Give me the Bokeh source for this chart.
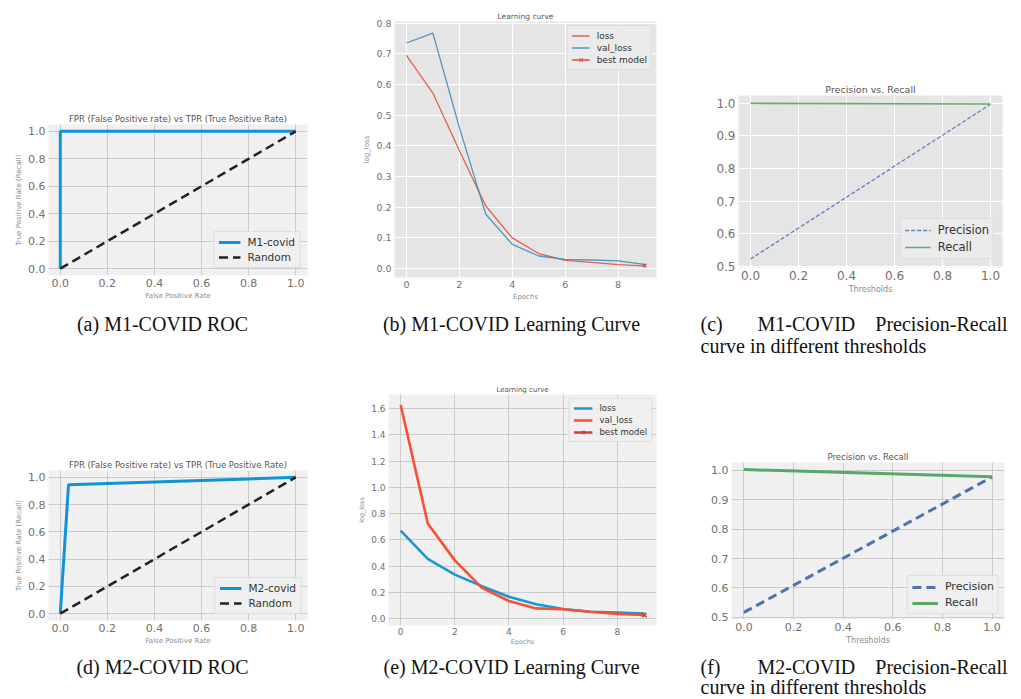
from bokeh.plotting import figure
from bokeh.layouts import column, row
from bokeh.models import Range1d, FixedTicker, PrintfTickFormatter, Legend, LegendItem
from bokeh.core.properties import value
from bokeh.embed import file_html
from bokeh.resources import INLINE

# ---------------- data ----------------
roc1_fpr = [0.0, 0.0, 1.0]
roc1_tpr = [0.0, 1.0, 1.0]
roc2_fpr = [0.0, 0.035, 1.0]
roc2_tpr = [0.0, 0.945, 1.0]
random_x = [0.0, 1.0]
random_y = [0.0, 1.0]

epochs = [0, 1, 2, 3, 4, 5, 6, 7, 8, 9]
m1_loss = [0.695, 0.572, 0.385, 0.204, 0.100, 0.049, 0.027, 0.020, 0.013, 0.009]
m1_val_loss = [0.735, 0.767, 0.460, 0.177, 0.079, 0.041, 0.030, 0.028, 0.025, 0.014]
m1_best_epoch = [9]
m1_best_loss = [0.010]

m2_loss = [0.671, 0.457, 0.337, 0.249, 0.168, 0.111, 0.075, 0.055, 0.048, 0.040]
m2_val_loss = [1.626, 0.726, 0.445, 0.236, 0.136, 0.080, 0.073, 0.055, 0.038, 0.030]
m2_best_epoch = [9]
m2_best_loss = [0.030]

thresholds = [0.0, 1.0]
m1_precision = [0.522, 0.997]
m1_recall = [1.000, 0.998]
m2_precision = [0.517, 0.977]
m2_recall = [1.002, 0.978]

unit_ticks = [0.0, 0.2, 0.4, 0.6, 0.8, 1.0]
pr_y_ticks = [0.5, 0.6, 0.7, 0.8, 0.9, 1.0]
epoch_ticks = [0, 2, 4, 6, 8]
m1_loss_ticks = [0.0, 0.1, 0.2, 0.3, 0.4, 0.5, 0.6, 0.7, 0.8]
m2_loss_ticks = [0.0, 0.2, 0.4, 0.6, 0.8, 1.0, 1.2, 1.4, 1.6]

FONT = "DejaVu Sans"
SERIF = "Liberation Serif"

# page layout (the page has no body margin: figure pixels = page pixels)
ROW1_Y, ROW1_H = 0, 308
CAP1_H = 60
ROW2_Y, ROW2_H = 368, 280
CAP2_H = 50
W_A, W_B, W_C = 345, 335, 340


def make_panel(width, height, fig_x, fig_y, frame, xr, yr, bg, grid, title, title_size,
               tick_size, label_size, xlabel, ylabel, xticks, yticks, xfmt, yfmt):
    l, r, t, b = frame
    p = figure(width=width, height=height, x_range=Range1d(*xr), y_range=Range1d(*yr),
               output_backend="svg", toolbar_location=None,
               min_border_left=l - fig_x, min_border_right=fig_x + width - r,
               min_border_top=t - fig_y, min_border_bottom=fig_y + height - b)
    p.frame_align = False
    p.background_fill_color = bg
    p.border_fill_color = "white"
    p.outline_line_color = None
    p.title.text = title
    p.title.align = "center"
    p.title.text_font = FONT
    p.title.text_font_size = title_size
    p.title.text_font_style = "normal"
    p.title.text_color = "#555555"
    p.title.standoff = 2
    for ax, lab, ticks, fmt in ((p.xaxis[0], xlabel, xticks, xfmt), (p.yaxis[0], ylabel, yticks, yfmt)):
        ax.axis_label = lab
        ax.axis_label_text_font = FONT
        ax.axis_label_text_font_size = label_size
        ax.axis_label_text_font_style = "normal"
        ax.axis_label_text_color = "#8a8a8a"
        ax.axis_label_standoff = 2
        ax.ticker = FixedTicker(ticks=ticks)
        ax.formatter = PrintfTickFormatter(format=fmt)
        ax.major_label_text_font = FONT
        ax.major_label_text_font_size = tick_size
        ax.major_label_text_color = "#707070"
        ax.major_label_standoff = 3
        ax.axis_line_color = None
        ax.major_tick_line_color = None
        ax.major_tick_out = 0
        ax.major_tick_in = 0
        ax.minor_tick_line_color = None
    p.xgrid.grid_line_color = grid
    p.ygrid.grid_line_color = grid
    p.xgrid.grid_line_width = 1
    p.ygrid.grid_line_width = 1
    return p


def add_legend(p, items, location, font_size, glyph_w, row_h, spacing, margin, bg):
    leg = Legend(items=items, location=location)
    leg.label_text_font = FONT
    leg.label_text_font_size = font_size
    leg.label_text_color = "#333333"
    leg.glyph_width = glyph_w
    leg.glyph_height = row_h
    leg.label_height = row_h
    leg.label_standoff = 7
    leg.padding = 4
    leg.spacing = spacing
    leg.margin = margin
    leg.background_fill_color = bg
    leg.background_fill_alpha = 0.9
    leg.border_line_color = "#d0d0d0"
    leg.border_line_width = 1
    p.add_layout(leg)


BG538 = "#f0f0f0"
GRID538 = "#cbcbcb"
BGGG = "#e5e5e5"

# ---------------- (a) M1 ROC ----------------
pa = make_panel(W_A, ROW1_H, 0, ROW1_Y, (48, 307, 124, 275), (-0.05, 1.05), (-0.05, 1.05), BG538, GRID538,
                "FPR (False Positive rate) vs TPR (True Positive Rate)", "8.5px", "11px", "7px",
                "False Positive Rate", "True Positive Rate (Recall)", unit_ticks, unit_ticks, "%.1f", "%.1f")
ra1 = pa.line(roc1_fpr, roc1_tpr, line_color="#0f94d8", line_width=3)
ra2 = pa.line(random_x, random_y, line_color="#222222", line_width=2.5, line_dash="9 5")
add_legend(pa, [LegendItem(label="M1-covid", renderers=[ra1]), LegendItem(label="Random", renderers=[ra2])],
           "bottom_right", "10.5px", 22, 12, 3, 7, BG538)

# ---------------- (b) M1 learning curve ----------------
pb = make_panel(W_B, ROW1_H, W_A, ROW1_Y, (394, 656, 21, 277), (-0.45, 9.45), (-0.029, 0.805), BGGG, "white",
                "Learning curve", "7.5px", "9.5px", "7px", "Epochs", "log_loss",
                epoch_ticks, m1_loss_ticks, "%d", "%.1f")
rb1 = pb.line(epochs, m1_loss, line_color="#E24A33", line_width=1.3, line_alpha=0.85)
rb2 = pb.line(epochs, m1_val_loss, line_color="#348ABD", line_width=1.3, line_alpha=0.85)
rb3 = pb.line(m1_best_epoch, m1_best_loss, line_color="#e0453a", line_width=1.3)
rb4 = pb.scatter(m1_best_epoch, m1_best_loss, marker="x", size=5, line_color="#e0453a", line_width=1.2)
add_legend(pb, [LegendItem(label="loss", renderers=[rb1]), LegendItem(label="val_loss", renderers=[rb2]),
                LegendItem(label="best model", renderers=[rb3, rb4])],
           "top_right", "9px", 18, 11, 1, 4, "#ebebeb")

# ---------------- (c) M1 precision-recall ----------------
pc = make_panel(W_C, ROW1_H, W_A + W_B, ROW1_Y, (738, 1002, 95, 267), (-0.05, 1.05), (0.496, 1.024), BGGG, "white",
                "Precision vs. Recall", "9.5px", "12px", "8px", "Thresholds", "",
                unit_ticks, pr_y_ticks, "%.1f", "%.1f")
rc1 = pc.line(thresholds, m1_precision, line_color="#5a7fc4", line_width=1.3, line_dash="4 2")
rc2 = pc.line(thresholds, m1_recall, line_color="#5fb173", line_width=1.6)
add_legend(pc, [LegendItem(label="Precision", renderers=[rc1]), LegendItem(label="Recall", renderers=[rc2])],
           "bottom_right", "11.5px", 26, 12, 3, 8, "#ebebeb")

# ---------------- (d) M2 ROC ----------------
pd_ = make_panel(W_A, ROW2_H, 0, ROW2_Y, (48, 307, 470, 620), (-0.05, 1.05), (-0.05, 1.05), BG538, GRID538,
                 "FPR (False Positive rate) vs TPR (True Positive Rate)", "8.5px", "11px", "7px",
                 "False Positive Rate", "True Positive Rate (Recall)", unit_ticks, unit_ticks, "%.1f", "%.1f")
rd1 = pd_.line(roc2_fpr, roc2_tpr, line_color="#0f94d8", line_width=3)
rd2 = pd_.line(random_x, random_y, line_color="#222222", line_width=2.5, line_dash="9 5")
add_legend(pd_, [LegendItem(label="M2-covid", renderers=[rd1]), LegendItem(label="Random", renderers=[rd2])],
           "bottom_right", "10.5px", 22, 12, 3, 6, BG538)

# ---------------- (e) M2 learning curve ----------------
pe = make_panel(W_B, ROW2_H, W_A, ROW2_Y, (388, 656, 394, 626), (-0.45, 9.45), (-0.05, 1.706), BG538, GRID538,
                "Learning curve", "7px", "9px", "6.5px", "Epochs", "log_loss",
                epoch_ticks, m2_loss_ticks, "%d", "%.1f")
pe.xaxis.major_label_standoff = 2
pe.xaxis.axis_label_standoff = 0
re1 = pe.line(epochs, m2_loss, line_color="#1a96d6", line_width=2.6)
re2 = pe.line(epochs, m2_val_loss, line_color="#fc4f30", line_width=2.6)
re3 = pe.line(m2_best_epoch, m2_best_loss, line_color="#d0403a", line_width=2.6)
re4 = pe.scatter(m2_best_epoch, m2_best_loss, marker="x", size=6, line_color="#d0403a", line_width=1.5)
add_legend(pe, [LegendItem(label="loss", renderers=[re1]), LegendItem(label="val_loss", renderers=[re2]),
                LegendItem(label="best model", renderers=[re3, re4])],
           "top_right", "8.5px", 19, 10, 2, 4, BG538)

# ---------------- (f) M2 precision-recall ----------------
pf = make_panel(W_C, ROW2_H, W_A + W_B, ROW2_Y, (731, 1004, 462, 619), (-0.05, 1.05), (0.493, 1.026), BG538, GRID538,
                "Precision vs. Recall", "8.5px", "11px", "8px", "Thresholds", "",
                unit_ticks, pr_y_ticks, "%.1f", "%.1f")
rf1 = pf.line(thresholds, m2_precision, line_color="#4C72B0", line_width=3, line_dash="9 5")
rf2 = pf.line(thresholds, m2_recall, line_color="#55A868", line_width=3)
add_legend(pf, [LegendItem(label="Precision", renderers=[rf1]), LegendItem(label="Recall", renderers=[rf2])],
           "bottom_right", "11px", 26, 12, 3, 5, BG538)


# ---------------- captions ----------------
def caption_fig(height, entries):
    c = figure(width=W_A + W_B + W_C, height=height, x_range=Range1d(0, W_A + W_B + W_C),
               y_range=Range1d(height, 0), title=None, x_axis_location=None, y_axis_location=None,
               output_backend="svg", toolbar_location=None, min_border=0)
    c.frame_align = False
    c.grid.visible = False
    c.outline_line_color = None
    c.background_fill_color = "white"
    c.border_fill_color = "white"
    for txt, x, y, align in entries:
        c.text(x=[x], y=[y], text=[txt], text_font=value(SERIF), text_font_size="20px",
               text_color="#111111", text_align=align, text_baseline="middle")
    return c


cap1 = caption_fig(CAP1_H, [
    ("(a) M1-COVID ROC", 162, 15, "center"),
    ("(b) M1-COVID Learning Curve", 511, 15, "center"),
    ("(c)", 700, 15, "left"),
    ("M1-COVID", 757, 15, "left"),
    ("Precision-Recall", 1007, 15, "right"),
    ("curve in different thresholds", 700, 37, "left"),
])
cap2 = caption_fig(CAP2_H, [
    ("(d) M2-COVID ROC", 162, 18, "center"),
    ("(e) M2-COVID Learning Curve", 511, 18, "center"),
    ("(f)", 700, 18, "left"),
    ("M2-COVID", 757, 18, "left"),
    ("Precision-Recall", 1007, 18, "right"),
    ("curve in different thresholds", 700, 38, "left"),
])

layout = column(row(pa, pb, pc), cap1, row(pd_, pe, pf), cap2)

open("out.html", "w").write(file_html(layout, INLINE))
